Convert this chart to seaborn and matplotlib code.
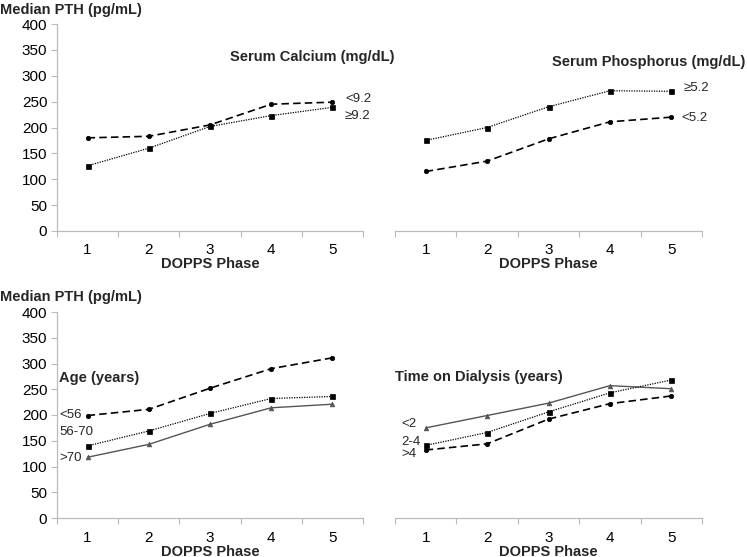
import matplotlib
matplotlib.use("Agg")
import matplotlib.pyplot as plt
import seaborn as sns
import pandas as pd
import numpy as np

phases = [1, 2, 3, 4, 5]

ca_low = [180, 183, 205, 245, 249]
ca_high = [126, 160, 202, 223, 239]

p_high = [175, 200, 240, 271, 270]
p_low = [115, 135, 178, 211, 220]

age_lt56 = [199, 211, 252, 290, 311]
age_56_70 = [140, 169, 203, 232, 236]
age_gt70 = [118, 143, 182, 214, 221]

tod_lt2 = [175, 199, 223, 257, 251]
tod_2_4 = [141, 166, 206, 243, 268]
tod_gt4 = [132, 144, 192, 222, 237]

yticks = [0, 50, 100, 150, 200, 250, 300, 350, 400]

sns.set_style("white")
plt.rcParams['font.family'] = ['Liberation Sans', 'DejaVu Sans']

fig = plt.figure(figsize=(7.47, 5.57), dpi=100)

W, H = 747, 557
def axrect(x0, x1, ytop, ybot):
    return [x0 / W, 1 - ybot / H, (x1 - x0) / W, (ybot - ytop) / H]

ax_tl = fig.add_axes(axrect(57, 363, 24, 231))
ax_tr = fig.add_axes(axrect(395, 702, 24, 231))
ax_bl = fig.add_axes(axrect(57, 363, 312, 518))
ax_br = fig.add_axes(axrect(395, 702, 312, 518))

styles = {
    "dash": dict(color="black", linestyle=(0, (4.5, 2.5)), marker="o", markersize=3.2, linewidth=1.2),
    "dot": dict(color="black", linestyle=(0, (1, 1)), marker="s", markersize=3.6, linewidth=0.9),
    "solid": dict(color="#555555", linestyle="-", marker="^", markersize=3.4, linewidth=1.0),
}

def draw(ax, y, kind):
    df = pd.DataFrame({"phase": phases, "pth": y})
    st = styles[kind]
    sns.lineplot(data=df, x="phase", y="pth", ax=ax, color=st["color"],
                 linestyle=st["linestyle"], marker=st["marker"],
                 markersize=st["markersize"], linewidth=st["linewidth"],
                 markeredgecolor=st["color"], markerfacecolor=st["color"],
                 markeredgewidth=0.5)

def style_ax(ax, left):
    ax.set_xlim(0.5, 5.5)
    ax.set_ylim(0, 400)
    ax.set_xticks(phases)
    ax.set_xticklabels([str(p) for p in phases])
    ax.set_xticks(np.arange(0.5, 5.6, 1), minor=True)
    ax.tick_params(axis="x", which="major", length=0, labelsize=11, pad=9, colors="black")
    ax.tick_params(axis="x", which="minor", length=4, width=0.8, color="#bbbbbb", direction="out", bottom=True)
    ax.set_xlabel("DOPPS Phase", fontsize=10.5, fontweight="bold", labelpad=0)
    ax.set_ylabel("")
    for s in ["top", "right"]:
        ax.spines[s].set_visible(False)
    ax.spines["bottom"].set_color("#bbbbbb")
    ax.spines["bottom"].set_linewidth(0.9)
    if left:
        ax.set_yticks(yticks)
        ax.tick_params(axis="y", length=4, width=0.8, color="#bbbbbb", direction="out", left=True,
                       labelsize=11, pad=3, colors="black")
        ax.spines["left"].set_color("#bbbbbb")
        ax.spines["left"].set_linewidth(0.9)
        for t in ax.get_yticklines():
            t.set_color("#bbbbbb")
    else:
        ax.spines["left"].set_visible(False)
        ax.set_yticks([])
    for t in ax.get_xticklines(minor=True):
        t.set_color("#bbbbbb")

# Top-left: Serum calcium
draw(ax_tl, ca_low, "dash")
draw(ax_tl, ca_high, "dot")
style_ax(ax_tl, True)

# Top-right: Serum phosphorus
draw(ax_tr, p_high, "dot")
draw(ax_tr, p_low, "dash")
style_ax(ax_tr, False)

# Bottom-left: Age
draw(ax_bl, age_lt56, "dash")
draw(ax_bl, age_56_70, "dot")
draw(ax_bl, age_gt70, "solid")
style_ax(ax_bl, True)

# Bottom-right: Time on dialysis
draw(ax_br, tod_lt2, "solid")
draw(ax_br, tod_2_4, "dot")
draw(ax_br, tod_gt4, "dash")
style_ax(ax_br, False)

def ftext(x, y, s, **kw):
    fig.text(x / W, 1 - y / H, s, **kw)

bold = dict(fontweight="bold", fontsize=10.5, va="center")
ftext(0, 10, "Median PTH (pg/mL)", ha="left", **bold)
ftext(0, 297, "Median PTH (pg/mL)", ha="left", **bold)
ftext(394, 57, "Serum Calcium (mg/dL)", ha="right", **bold)
ftext(745, 62, "Serum Phosphorus (mg/dL)", ha="right", **bold)
ftext(59, 378, "Age (years)", ha="left", **bold)
ftext(395, 377, "Time on Dialysis (years)", ha="left", **bold)

lab = dict(fontsize=9.5, va="center", ha="left")
ftext(345, 99, "<9.2", **lab)
ftext(345, 116, "≥9.2", **lab)
ftext(684, 88, "≥5.2", **lab)
ftext(681, 118, "<5.2", **lab)
ftext(59, 415, "<56", **lab)
ftext(59, 432, "56-70", **lab)
ftext(59, 458, ">70", **lab)
ftext(401, 424, "<2", **lab)
ftext(401, 442, "2-4", **lab)
ftext(401, 454, ">4", **lab)

fig.savefig("out.png", dpi=100, facecolor="white")
